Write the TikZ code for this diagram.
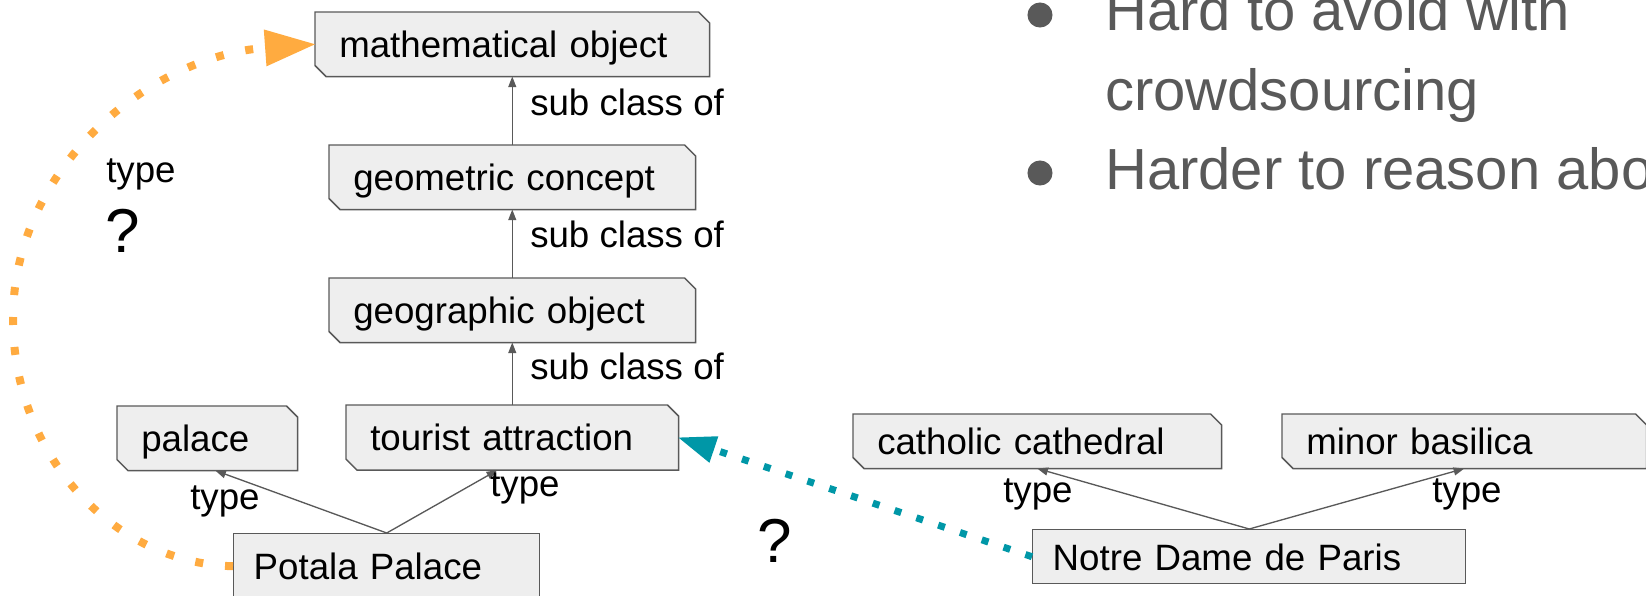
\documentclass[tikz,border=0pt]{standalone}
\usepackage{fontspec}
\setmainfont{Liberation Sans}
\usetikzlibrary{arrows.meta,positioning,backgrounds}
\definecolor{kbgray}{HTML}{595959}
\definecolor{kbfill}{HTML}{EEEEEE}
\definecolor{kborange}{HTML}{FFAB40}
\definecolor{kbteal}{HTML}{0097A7}
\newcommand{\kbfont}{\fontsize{27.5pt}{33pt}\selectfont}
\newcommand{\kbsnip}{8.25pt}

\begin{document}
\begin{tikzpicture}[x=0.75pt, y=-0.75pt,
  conceptbox/.style={inner ysep=0pt, text height=20pt, text depth=0pt,
    align=left, font=\kbfont, anchor=north west},
  snipbox/.style={conceptbox, inner xsep=18pt},
  plainbox/.style={conceptbox, draw=kbgray, fill=kbfill, line width=1.1pt, inner xsep=15pt},
  lbl/.style={font=\kbfont, inner sep=0pt, anchor=base west},
  qmark/.style={font=\fontsize{46.5pt}{50pt}\selectfont, inner sep=0pt, anchor=base west},
  bulletline/.style={kbgray, font=\fontsize{43.5pt}{50pt}\selectfont, inner sep=0pt, anchor=base west},
  isa/.style={kbgray, line width=1pt, -{Triangle[length=8pt, width=6pt]}},
  guessorange/.style={kborange, line width=6pt, dash pattern=on 6pt off 16.5pt,
    -{Triangle[length=37.5pt, width=27.75pt, line width=0pt]}},
  guessteal/.style={kbteal, line width=5.25pt, dash pattern=on 5.25pt off 12pt,
    -{Triangle[length=28pt, width=21pt, line width=0pt]}}]
\useasboundingbox (0,0) rectangle (1646,596);
\clip (0,0) rectangle (1646,596);

% class hierarchy
\node[snipbox, text width=259.5pt, minimum height=48pt] (mathobj) at (315,12) {mathematical object};
\node[snipbox, text width=238.5pt, minimum height=48pt] (geoconcept) at (329,145) {geometric concept};
\node[snipbox, text width=238.5pt, minimum height=48pt] (geoobject) at (329,278) {geographic object};
\node[snipbox, text width=213pt, minimum height=48.5pt] (tourist) at (346,405) {tourist attraction};
\node[snipbox, text width=99pt, minimum height=48pt] (palace) at (117,406) {palace};
\node[snipbox, text width=240pt, minimum height=40.5pt] (cathedral) at (853,414) {catholic cathedral};
\node[snipbox, text width=237pt, minimum height=40.5pt] (basilica) at (1282,414) {minor basilica};

% instances
\node[plainbox, text width=199.5pt, minimum height=48.75pt] (potala) at (233,533) {Potala Palace};
\node[plainbox, text width=294.75pt, minimum height=40.5pt] (notre) at (1032,529) {Notre Dame de Paris};

% snipped outlines behind the class boxes
\begin{pgfonlayer}{background}
\foreach \n in {mathobj,geoconcept,geoobject,tourist,palace,cathedral,basilica}
  \filldraw[kbgray, fill=kbfill, line width=1.1pt]
    (\n.north west) -- ([xshift=-\kbsnip]\n.north east) -- ([yshift=-\kbsnip]\n.north east)
    -- (\n.south east) -- ([xshift=\kbsnip]\n.south west) -- ([yshift=\kbsnip]\n.south west) -- cycle;
\end{pgfonlayer}

% sub class of
\draw[isa] (geoconcept) -- (mathobj);
\draw[isa] (geoobject) -- (geoconcept);
\draw[isa] (tourist) -- (geoobject);
\node[lbl] (sub1) at (530,115) {sub class of};
\node[lbl] (sub2) at (530,247) {sub class of};
\node[lbl] (sub3) at (530,379) {sub class of};

% type
\draw[isa] (potala.north) -- ([xshift=6pt]palace.south);
\draw[isa] (potala.north) -- ([xshift=-11.25pt]tourist.south);
\draw[isa] (notre.north) -- (cathedral.south);
\draw[isa] (notre.north) -- (basilica.south);
\node[lbl] (typepal) at (190,509) {type};
\node[lbl] (typetour) at (490,496) {type};
\node[lbl] (typecath) at (1003,502) {type};
\node[lbl] (typebas) at (1432,502) {type};

% guessed links
\coordinate (bend) at (13,319);
\draw[guessorange] (potala.west) .. controls +(-121,-3) and +(0,135) .. (bend)
  .. controls +(0,-152) and +(-165,12) .. (mathobj.west);
\node[lbl] (typeguess) at (106,182) {type};
\node[qmark] (qorange) at (105,252) {?};
\draw[guessteal] (notre.west) -- (tourist.east);
\node[qmark] (qteal) at (757,562) {?};

% bullet points
\fill[kbgray] (1040,15) circle (9.4pt);
\fill[kbgray] (1040,173) circle (9.4pt);
\node[bulletline] (pt1a) at (1105,31) {Hard to avoid with};
\node[bulletline] (pt1b) at (1105,110) {crowdsourcing};
\node[bulletline] (pt2) at (1105,189) {Harder to reason about};
\end{tikzpicture}
\end{document}
